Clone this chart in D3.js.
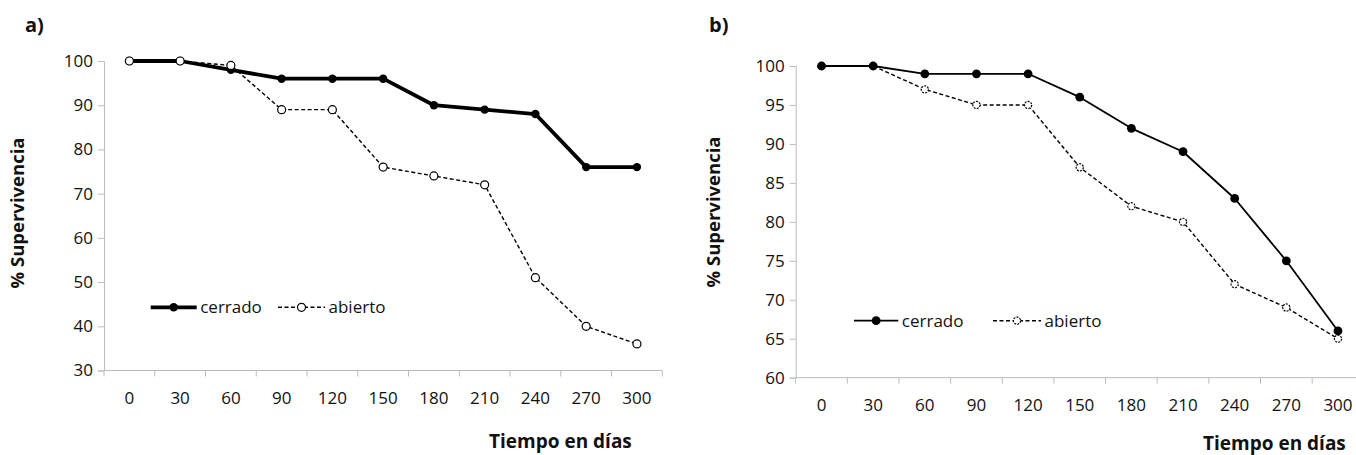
<!DOCTYPE html>
<html>
<head>
<meta charset="utf-8">
<script src="https://cdn.jsdelivr.net/npm/d3@7"></script>
<style>
  html, body { margin: 0; padding: 0; background: #fff; }
  svg { display: block; }
  text { font-family: "Open Sans", "Noto Sans", sans-serif; fill: #111; }
</style>
</head>
<body>
<svg id="chart" width="1356" height="455"></svg>
<script>
// Days of observation (category axis)
const dias = [0, 30, 60, 90, 120, 150, 180, 210, 240, 270, 300];

// Panel a) survival (%)
const cerradoA = [100, 100, 98, 96, 96, 96, 90, 89, 88, 76, 76];
const abiertoA = [100, 100, 99, 89, 89, 76, 74, 72, 51, 40, 36];

// Panel b) survival (%)
const cerradoB = [100, 100, 99, 99, 99, 96, 92, 89, 83, 75, 66];
const abiertoB = [100, 100, 97, 95, 95, 87, 82, 80, 72, 69, 65];

// Y tick labels
const yTicksA = [30, 40, 50, 60, 70, 80, 90, 100];
const yTicksB = [60, 65, 70, 75, 80, 85, 90, 95, 100];

const svg = d3.select("#chart");
const axisColor = "#bcbcbc";
const labelSize = "17px";

function panel(cfg) {
  const g = svg.append("g");
  const x = d3.scaleBand().domain(dias).range(cfg.xRange).padding(0);
  const y = d3.scaleLinear().domain(cfg.yDomain).range(cfg.yRange);
  const cx = d => x(d) + x.bandwidth() / 2;

  // Y axis
  const yAxis = g.append("g")
    .attr("transform", `translate(${cfg.xRange[0]},0)`)
    .call(d3.axisLeft(y).tickValues(cfg.yTicks).tickSize(6).tickPadding(5).tickFormat(d3.format("d")));
  yAxis.select(".domain").attr("stroke", axisColor).attr("stroke-width", 1);
  yAxis.selectAll(".tick line").attr("stroke", axisColor);
  yAxis.selectAll(".tick text").style("font-size", labelSize).attr("fill", "#111");

  // X axis: baseline, boundary ticks and centred category labels
  const yBase = y(cfg.yDomain[0]);
  g.append("line")
    .attr("x1", cfg.xRange[0]).attr("x2", cfg.xRange[1])
    .attr("y1", yBase).attr("y2", yBase)
    .attr("stroke", axisColor);
  const edges = dias.map(d => x(d)).concat([x.range()[1]]);
  g.selectAll(".xtick").data(edges).join("line")
    .attr("x1", d => d).attr("x2", d => d)
    .attr("y1", yBase).attr("y2", yBase + 6)
    .attr("stroke", axisColor);
  g.selectAll(".xlab").data(dias).join("text")
    .attr("x", d => cx(d))
    .attr("y", yBase + 33)
    .attr("text-anchor", "middle")
    .style("font-size", labelSize)
    .text(d => d);

  // Axis titles and panel letter
  g.append("text")
    .attr("transform", `translate(${cfg.yTitleX},${cfg.yTitleY}) rotate(-90)`)
    .attr("text-anchor", "middle")
    .style("font-size", "18.5px").style("font-weight", "700")
    .text("% Supervivencia");
  g.append("text")
    .attr("x", cfg.xTitleX).attr("y", cfg.xTitleY)
    .attr("text-anchor", "start")
    .style("font-size", "19px").style("font-weight", "700")
    .text("Tiempo en días");
  g.append("text")
    .attr("x", cfg.letterX).attr("y", 32)
    .style("font-size", "20px").style("font-weight", "700")
    .text(cfg.letter);

  const line = vals => d3.line().x((v, i) => cx(dias[i])).y(v => y(v))(vals);

  function drawCerrado() {
    g.append("path").attr("d", line(cfg.cerrado))
      .attr("fill", "none").attr("stroke", "#000")
      .attr("stroke-width", cfg.solidWidth).attr("stroke-linejoin", "round");
    g.selectAll(null).data(cfg.cerrado).join("circle")
      .attr("cx", (v, i) => cx(dias[i])).attr("cy", v => y(v))
      .attr("r", cfg.dotR).attr("fill", "#000");
  }
  function drawAbierto() {
    g.append("path").attr("d", line(cfg.abierto))
      .attr("fill", "none").attr("stroke", "#000")
      .attr("stroke-width", 1.4).attr("stroke-dasharray", "4,2.5");
    g.selectAll(null).data(cfg.abierto).join("circle")
      .attr("cx", (v, i) => cx(dias[i])).attr("cy", v => y(v))
      .attr("r", cfg.openR).attr("fill", "#fff").attr("stroke", "#000")
      .attr("stroke-width", 1.2)
      .attr("stroke-dasharray", cfg.openDash);
  }
  cfg.order.forEach(s => (s === "cerrado" ? drawCerrado() : drawAbierto()));

  // Legend
  const L = cfg.legend;
  g.append("line").attr("x1", L.c[0]).attr("x2", L.c[1]).attr("y1", L.y).attr("y2", L.y)
    .attr("stroke", "#000").attr("stroke-width", cfg.solidWidth);
  g.append("circle").attr("cx", (L.c[0] + L.c[1]) / 2).attr("cy", L.y).attr("r", cfg.dotR).attr("fill", "#000");
  g.append("text").attr("x", L.c[1] + 3.5).attr("y", L.y).attr("dy", "0.35em")
    .style("font-size", labelSize).text("cerrado");
  g.append("line").attr("x1", L.a[0]).attr("x2", L.a[1]).attr("y1", L.y).attr("y2", L.y)
    .attr("stroke", "#000").attr("stroke-width", 1.4).attr("stroke-dasharray", "4,2.5");
  g.append("circle").attr("cx", (L.a[0] + L.a[1]) / 2).attr("cy", L.y).attr("r", cfg.openR)
    .attr("fill", "#fff").attr("stroke", "#000").attr("stroke-width", 1.2)
    .attr("stroke-dasharray", cfg.openDash);
  g.append("text").attr("x", L.a[1] + 3.5).attr("y", L.y).attr("dy", "0.35em")
    .style("font-size", labelSize).text("abierto");
}

panel({
  letter: "a)", letterX: 25,
  xRange: [104, 662.3], yDomain: [30, 100], yRange: [370.5, 61], yTicks: yTicksA,
  cerrado: cerradoA, abierto: abiertoA,
  solidWidth: 3.8, dotR: 4.2, openR: 4, openDash: null,
  order: ["cerrado", "abierto"],
  yTitleX: 24, yTitleY: 213, xTitleX: 489, xTitleY: 448,
  legend: { y: 307.3, c: [150.7, 196.7], a: [278, 325] }
});

panel({
  letter: "b)", letterX: 709,
  xRange: [795.7, 1363.8], yDomain: [60, 100], yRange: [377.7, 66], yTicks: yTicksB,
  cerrado: cerradoB, abierto: abiertoB,
  solidWidth: 1.8, dotR: 4.4, openR: 3.6, openDash: "2,1.2",
  order: ["abierto", "cerrado"],
  yTitleX: 720, yTitleY: 212, xTitleX: 1203, xTitleY: 450,
  legend: { y: 320.7, c: [854, 898.3], a: [993, 1041] }
});
</script>
</body>
</html>
